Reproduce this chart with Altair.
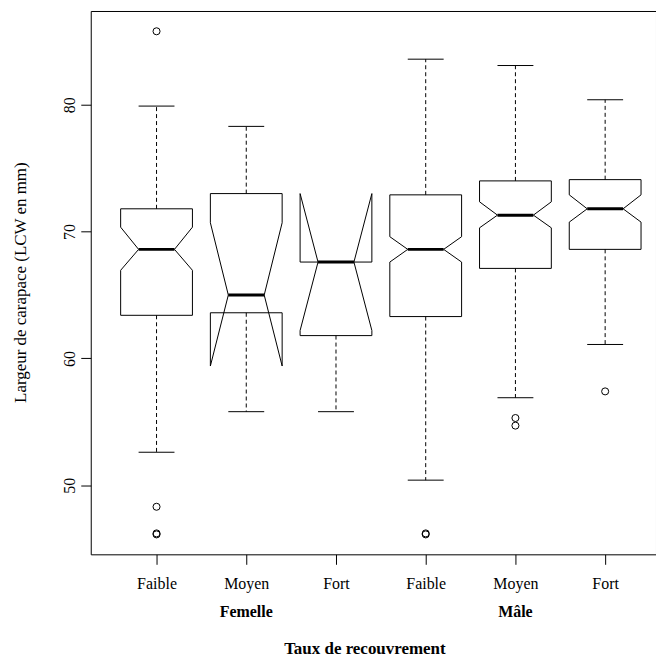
import json
import altair as alt
import pandas as pd

# ---- data ----
groups = ["Faible", "Moyen", "Fort", "Faible", "Moyen", "Fort"]
sexes = ["Femelle", "Mâle"]
sex_pos = [2, 5]
whisk_lo = [52.6, 55.8, 55.8, 50.4, 56.9, 61.1]
q1 = [63.4, 63.6, 61.8, 63.3, 67.1, 68.6]
med = [68.6, 65.0, 67.6, 68.6, 71.3, 71.8]
q3 = [71.8, 73.0, 67.6, 72.9, 74.0, 74.1]
whisk_hi = [79.9, 78.3, 67.6, 83.6, 83.1, 80.4]
notch_lo = [66.95, 59.4, 62.2, 67.6, 70.3, 70.75]
notch_hi = [70.35, 70.7, 73.0, 69.6, 72.35, 72.9]
out_group = [1, 1, 1, 1, 4, 4, 5, 5, 6]
out_value = [85.8, 48.3, 46.2, 46.12, 46.2, 46.12, 55.3, 54.7, 57.4]

HALF = 0.4      # half box width (category units)
NFRAC = 0.5     # notch fraction

FONT = "Liberation Serif"

# ---- build tables ----
frac = [-1, 1, 1, NFRAC, 1, 1, -1, -1, -NFRAC, -1, -1]
keys = ["q1", "q1", "nlo", "med", "nhi", "q3", "q3", "nhi", "med", "nlo", "q1"]
box_rows = []
for i in range(len(groups)):
    vals = {"q1": q1[i], "q3": q3[i], "med": med[i], "nlo": notch_lo[i], "nhi": notch_hi[i]}
    for k, (f, key) in enumerate(zip(frac, keys)):
        box_rows.append({"g": i + 1, "k": k, "x": i + 1 + HALF * f, "y": vals[key]})
box_df = pd.DataFrame(box_rows)

pos = [i + 1 for i in range(len(groups))]
med_df = pd.DataFrame({"x": [p - HALF * NFRAC for p in pos], "x2": [p + HALF * NFRAC for p in pos], "y": med})
wh_df = pd.DataFrame({
    "x": pos + pos,
    "y": q3 + q1,
    "y2": whisk_hi + whisk_lo,
})
cap_df = pd.DataFrame({
    "x": [p - HALF * NFRAC for p in pos] * 2,
    "x2": [p + HALF * NFRAC for p in pos] * 2,
    "y": whisk_hi + whisk_lo,
})
out_df = pd.DataFrame({"x": out_group, "y": out_value})
sex_df = pd.DataFrame({"x": sex_pos, "label": sexes})

xscale = alt.Scale(domain=[0.2667, 6.5667], nice=False, zero=False)
yscale = alt.Scale(domain=[44.55, 87.4], nice=False, zero=False)

label_expr = json.dumps(groups) + "[datum.value - 1]"

xaxis = alt.Axis(
    values=pos, labelExpr=label_expr, title="Taux de recouvrement",
    tickSize=10, labelPadding=11, labelFontSize=16, labelFont=FONT,
    labelColor="black", tickColor="black", domain=False, grid=False,
    titleFont=FONT, titleFontSize=17, titleFontWeight="bold", titleColor="black",
    titleY=94, titleBaseline="middle", titleX=274.5, titleAnchor="middle",
)
yaxis = alt.Axis(
    values=[50, 60, 70, 80], title="Largeur de carapace (LCW en mm)",
    tickSize=10, labelPadding=3, labelFontSize=16, labelFont=FONT,
    labelAngle=270, labelAlign="center", labelBaseline="bottom",
    labelColor="black", tickColor="black", domain=False, grid=False,
    titleFont=FONT, titleFontSize=17, titleFontWeight="normal", titleColor="black",
    titleAngle=270, titleX=-70, titleY=272, titleAlign="center", titleBaseline="middle",
)


def X(field):
    return alt.X(field, scale=xscale, axis=xaxis, title="Taux de recouvrement")


def Y(field):
    return alt.Y(field, scale=yscale, axis=yaxis, title="Largeur de carapace (LCW en mm)")


boxes = alt.Chart(box_df).mark_line(color="black", strokeWidth=1).encode(
    x=X("x:Q"), y=Y("y:Q"), detail="g:N", order="k:Q",
)

medians = alt.Chart(med_df).mark_rule(color="black", strokeWidth=3).encode(
    x=X("x:Q"), x2="x2:Q", y=Y("y:Q"),
)

whiskers = alt.Chart(wh_df).mark_rule(color="black", strokeWidth=1, strokeDash=[4, 3]).encode(
    x=X("x:Q"), y=Y("y:Q"), y2="y2:Q",
)

caps = alt.Chart(cap_df).mark_rule(color="black", strokeWidth=1).encode(
    x=X("x:Q"), x2="x2:Q", y=Y("y:Q"),
)

outliers = alt.Chart(out_df).mark_point(shape="circle", filled=False, size=50, color="black",
                                         strokeWidth=1, opacity=1).encode(
    x=X("x:Q"), y=Y("y:Q"),
)

sex_text = alt.Chart(sex_df).mark_text(font=FONT, fontSize=16, fontWeight="bold", color="black",
                                       baseline="middle", align="center").encode(
    x=X("x:Q"),
    y=alt.value(603),
    text="label:N",
)

chart = alt.layer(boxes, whiskers, caps, medians, outliers, sex_text).properties(
    width=567, height=545,
    autosize=alt.AutoSizeParams(type="none"),
    padding={"left": 83, "top": 2, "right": 0, "bottom": 104},
    background="white",
).configure_view(stroke="black", strokeWidth=1)

chart.save("out.html", embed_options={"renderer": "svg", "actions": False})
